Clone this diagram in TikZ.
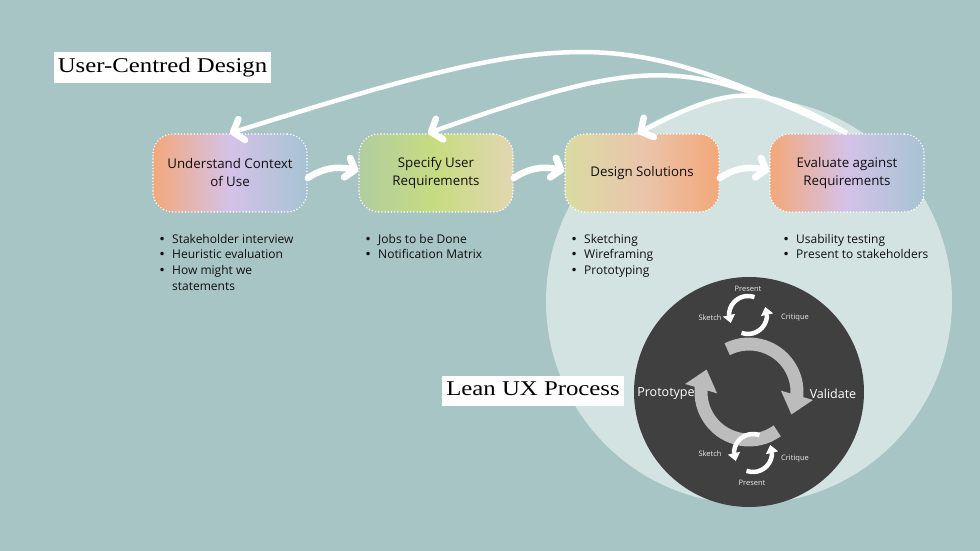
\documentclass[tikz,border=0pt]{standalone}
\usepackage{fontspec}
\setmainfont{Open Sans}
\newfontfamily\headfont[FakeStretch=1.18]{Liberation Serif}
\newfontfamily\symfont{DejaVu Sans}
\usetikzlibrary{arrows.meta,bending}

\definecolor{bg}{RGB}{168,197,198}
\definecolor{pale}{RGB}{211,227,226}
\definecolor{dark}{RGB}{64,64,64}
\definecolor{ring}{RGB}{188,188,188}
\definecolor{peach}{RGB}{243,168,122}
\definecolor{lilac}{RGB}{212,194,232}
\definecolor{steel}{RGB}{167,195,211}
\definecolor{sage}{RGB}{178,205,160}
\definecolor{lime}{RGB}{199,220,128}
\definecolor{sand}{RGB}{226,214,178}
\definecolor{olive}{RGB}{218,219,162}
\definecolor{blush}{RGB}{234,197,172}
\definecolor{ink}{RGB}{15,15,15}

\newcommand\pointmark{\makebox[13.5pt][l]{\symfont\textbullet}}

\begin{document}
\begin{tikzpicture}[x=1pt,y=1pt,
  stage/.style={draw=white,line width=1.6pt,dash pattern=on 0pt off 3.2pt,line cap=round,rounded corners=20pt,minimum width=154pt,minimum height=78pt,align=center,text=ink,font=\fontsize{13.3}{18}\selectfont},
  headline/.style={fill=white,text=black,font=\headfont\fontsize{21}{21}\selectfont,inner xsep=4pt,inner ysep=6pt,text height=14pt,text depth=4.5pt},
  points/.style={anchor=north west,inner sep=0pt,text=ink,font=\fontsize{12}{15.7}\selectfont},
  backarc/.style={white,line width=4.5pt,-{Straight Barb[length=9pt,width=22pt,line width=6.5pt,round,flex]}},
  handoff/.style={white,line width=6.5pt,line cap=round,-{Straight Barb[length=8pt,width=20pt,line width=7pt,round,flex]}},
  bigturn/.style={ring,line width=13pt,-{Triangle[width=32pt,length=20pt,flex]}},
  spin/.style={white,line width=4.5pt,-{Triangle[width=12pt,length=8pt,flex]}},
  tag/.style={text=white!92!black,font=\fontsize{7.5}{8}\selectfont},
  phase/.style={text=white,font=\fontsize{12.5}{13}\selectfont}]
\fill[bg] (0,0) rectangle (980,551);
\useasboundingbox (0,0) rectangle (980,551);

\node[circle,fill=pale,minimum size=406pt,inner sep=0pt] (leanzone) at (749,250) {};
\node[circle,fill=dark,minimum size=230pt,inner sep=0pt] (leanwheel) at (749,159) {};
\coordinate (upper) at (748,236);
\coordinate (lower) at (753,98);

\draw[bigturn] ([shift={(117:48)}]leanwheel.center) arc[start angle=117,end angle=-28,radius=48];
\draw[bigturn] ([shift={(-54:48)}]leanwheel.center) arc[start angle=-54,end angle=-208,radius=48];
\draw[spin] ([shift={(70:19)}]upper) arc[start angle=70,end angle=205,radius=19];
\draw[spin] ([shift={(250:19)}]upper) arc[start angle=250,end angle=385,radius=19];
\draw[spin] ([shift={(70:19)}]lower) arc[start angle=70,end angle=205,radius=19];
\draw[spin] ([shift={(250:19)}]lower) arc[start angle=250,end angle=385,radius=19];

\node[tag] (present1) at (748,262) {Present};
\node[tag] (sketch1) at (710,233) {Sketch};
\node[tag] (critique1) at (795,233) {Critique};
\node[phase] (prototype) at (666,157) {Prototype};
\node[phase] (validate) at (833,157) {Validate};
\node[tag] (sketch2) at (710,97) {Sketch};
\node[tag] (critique2) at (795,92) {Critique};
\node[tag] (present2) at (752,68) {Present};

\node[headline] (ucd) at (162.5,483.5) {User-Centred Design};
\node[headline] (leanux) at (533,160) {Lean UX Process};

\node[stage,left color=peach,right color=steel,middle color=lilac] (context) at (230,378) {Understand Context\\of Use};
\node[stage,left color=sage,right color=sand,middle color=lime] (require) at (436,378) {Specify User\\Requirements};
\node[stage,left color=olive,right color=peach,middle color=blush] (design) at (642,378) {Design Solutions};
\node[stage,left color=peach,right color=steel,middle color=lilac] (evaluate) at (847,378) {Evaluate against\\Requirements};

\node[points] (contextnotes) at (158.5,319) {\begin{tabular}{@{}l@{}l@{}}\pointmark & Stakeholder interview\\ \pointmark & Heuristic evaluation\\ \pointmark & How might we\\ & statements\end{tabular}};
\node[points] (requirenotes) at (364.5,319) {\begin{tabular}{@{}l@{}l@{}}\pointmark & Jobs to be Done\\ \pointmark & Notification Matrix\end{tabular}};
\node[points] (designnotes) at (570.5,319) {\begin{tabular}{@{}l@{}l@{}}\pointmark & Sketching\\ \pointmark & Wireframing\\ \pointmark & Prototyping\end{tabular}};
\node[points] (evaluatenotes) at (782.5,319) {\begin{tabular}{@{}l@{}l@{}}\pointmark & Usability testing\\ \pointmark & Present to stakeholders\end{tabular}};

\draw[handoff] ([yshift=-5pt]context.east) to[bend left=25] ([yshift=2pt]require.west);
\draw[handoff] ([yshift=-5pt]require.east) to[bend left=25] ([yshift=2pt]design.west);
\draw[handoff] ([yshift=-5pt]design.east) to[bend left=25] ([yshift=2pt]evaluate.west);

\draw[backarc] (evaluate.north) .. controls (616,526) and (575,526) .. (context.north);
\draw[backarc] (evaluate.north) .. controls (683,495) and (647,495) .. ([xshift=-8pt]require.north);
\draw[backarc] (evaluate.north) .. controls (762,468) and (733,468) .. ([xshift=-4pt]design.north);
\end{tikzpicture}
\end{document}
